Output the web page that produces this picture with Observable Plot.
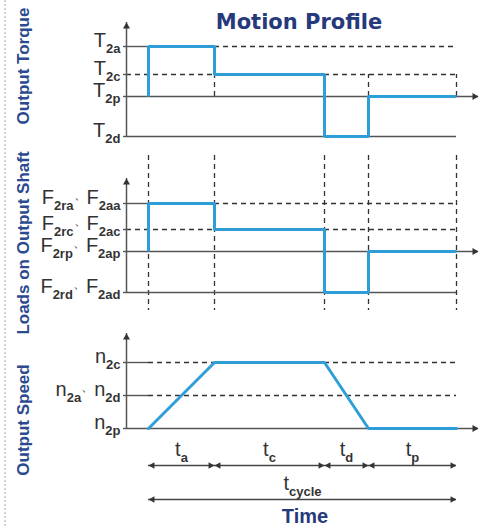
<!DOCTYPE html>
<html>
<head>
<meta charset="utf-8">
<script src="https://cdn.jsdelivr.net/npm/d3@7"></script>
<script src="https://cdn.jsdelivr.net/npm/@observablehq/plot@0.6"></script>
<style>
  html, body { margin: 0; padding: 0; background: #fff; }
  #chart { position: relative; width: 486px; height: 526px; overflow: hidden; font-family: "Liberation Sans", Arial, sans-serif; }
  #chart svg { position: absolute; left: 0; }
  .title { position: absolute; left: 299px; top: 12px; transform: translateX(-50%); font-family: "DejaVu Sans", sans-serif; font-weight: bold; font-size: 21px; line-height: 1; color: #26397a; white-space: nowrap; }
  .side { position: absolute; left: 23px; transform: translate(-50%, -50%) rotate(-90deg); font-weight: bold; font-size: 17px; line-height: 1; color: #2b4a8f; white-space: nowrap; }
  .time { position: absolute; left: 305px; top: 506px; transform: translateX(-50%); font-weight: bold; font-size: 20px; line-height: 1; color: #26397a; }
  .dots { position: absolute; left: 4px; top: 0; height: 526px; border-left: 2px dotted #d2d2d2; }
</style>
</head>
<body>
<div id="chart"></div>
<script>
// ---------------- data ----------------
const phaseNames = ["a", "c", "d", "p"];            // acceleration, constant, deceleration, pause
const phaseDurations = [3, 5, 2, 4];                // t_a, t_c, t_d, t_p
const phaseLabels = ["t_a", "t_c", "t_d", "t_p"];
const cycleLabel = "t_cycle";

const torqueLabels = ["T_2a", "T_2c", "T_2p", "T_2d"];
const torqueValues = [5, 2.2, 0, -4];
const loadLabels = ["F_2ra、F_2aa", "F_2rc、F_2ac", "F_2rp、F_2ap", "F_2rd、F_2ad"];
const loadValues = [4.8, 2.2, 0, -4.1];
const speedLabels = ["n_2c", "n_2a、n_2d", "n_2p"];
const speedValues = [3, 1.5, 0];

// level held during each phase (index into the torque / load level arrays)
const stepPhaseLevel = [0, 1, 3, 2];
// speed at each phase boundary (index into speedValues)
const speedAtBoundary = [2, 0, 0, 2, 2];

// ---------------- styling ----------------
const W = 486;
const X_DOMAIN = [-1, 15];
const xMin = X_DOMAIN[0], xMax = X_DOMAIN[1];
const BLUE = "#2f9ed8";
const SOLID = "#555";
const DASH = "#333";
const FONT = "Liberation Sans, Arial, sans-serif";
const SUB_SIZE = 13, SUB_SHIFT = 6, SEP_RAISE = 5;

const bounds = [0, ...d3.cumsum(phaseDurations)];
const last = bounds.length - 1;

const chart = document.getElementById("chart");

function subscripts(svg) {
  svg.querySelectorAll("text").forEach(t => {
    const s = t.textContent;
    if (!s.includes("_")) return;
    t.textContent = "";
    const parts = s.split(/(_[0-9a-z]+|、)/).filter(p => p !== "");
    let offset = 0; // current baseline offset
    const move = (ts, target) => { if (target !== offset) { ts.setAttribute("dy", target - offset); offset = target; } };
    for (const p of parts) {
      const ts = document.createElementNS("http://www.w3.org/2000/svg", "tspan");
      if (p.startsWith("_")) {
        ts.textContent = p.slice(1);
        ts.setAttribute("font-size", SUB_SIZE);
        ts.setAttribute("font-weight", "bold");
        move(ts, SUB_SHIFT);
      } else if (p === "、") {
        ts.textContent = p;
        ts.setAttribute("font-size", 13);
        move(ts, -SEP_RAISE);
      } else {
        ts.textContent = p;
        move(ts, 0);
      }
      t.appendChild(ts);
    }
  });
}

function panel(top, height, y, marks) {
  const svg = Plot.plot({
    width: W, height,
    marginLeft: 126, marginRight: 8, marginTop: 0, marginBottom: 0,
    x: {domain: X_DOMAIN, axis: null},
    y: {...y, axis: null},
    style: {background: "none", overflow: "visible"},
    marks
  });
  svg.style.position = "absolute";
  svg.style.top = top + "px";
  svg.style.left = "0px";
  subscripts(svg);
  chart.appendChild(svg);
}

function levelLabels(labels, values) {
  const rows = labels.map((label, i) => ({label, v: values[i]}));
  return [
    Plot.ruleY(rows, {y: "v", x1: xMin, x2: xMin, insetLeft: -3, stroke: SOLID, strokeWidth: 1.4}),
    Plot.text(rows, {x: xMin, y: "v", text: "label", textAnchor: "end", lineAnchor: "bottom", dx: -6,
      fontSize: 20, fontFamily: FONT, fill: "#333"})
  ];
}

function axes(bottomLevel, zero, tip) {
  return [
    Plot.ruleX([xMin], {x: d => d, y1: bottomLevel, y2: tip, stroke: SOLID, strokeWidth: 1.5}),
    Plot.ruleY([zero], {y: d => d, x1: xMin, x2: xMax, stroke: SOLID, strokeWidth: 1.5}),
    Plot.dot([tip], {x: xMin, y: d => d, symbol: "triangle", r: 2.6, dy: 4, fill: "#333", stroke: "none"}),
    Plot.dot([zero], {x: xMax, y: d => d, symbol: "triangle", r: 2.6, rotate: 90, dx: -4, fill: "#333", stroke: "none"})
  ];
}

function stepPanel(top, values, labels, tip, verticalFrom) {
  const [A, C, P, D] = values;
  const pts = [{t: bounds[0], v: P}];
  phaseNames.forEach((_, i) => {
    const v = values[stepPhaseLevel[i]];
    pts.push({t: bounds[i], v}, {t: bounds[i + 1], v});
  });
  const solid = [
    {y: A, x1: xMin, x2: bounds[0]},
    {y: D, x1: xMin, x2: bounds[last]}
  ];
  const dashed = [
    {y: A, x1: bounds[1], x2: bounds[last]},
    {y: C, x1: xMin, x2: bounds[1]},
    {y: C, x1: bounds[2], x2: bounds[last]}
  ];
  panel(top, 155, {domain: [-5.9, 9.6]}, [
    Plot.ruleX(bounds, {x: d => d, y1: verticalFrom, stroke: DASH, strokeWidth: 1.3, strokeDasharray: "5,4"}),
    Plot.ruleY(dashed, {y: "y", x1: "x1", x2: "x2", stroke: DASH, strokeWidth: 1.3, strokeDasharray: "5,4"}),
    Plot.ruleY(solid, {y: "y", x1: "x1", x2: "x2", stroke: SOLID, strokeWidth: 1.4}),
    ...axes(D, P, tip),
    ...levelLabels(labels, values),
    Plot.line(pts, {x: "t", y: "v", stroke: BLUE, strokeWidth: 3, strokeLinejoin: "miter", strokeLinecap: "butt"})
  ]);
}

// Output torque
stepPanel(0, torqueValues, torqueLabels, 7.4, torqueValues[1]);
// Loads on output shaft
stepPanel(155, loadValues, loadLabels, 7.3, undefined);

// Output speed
{
  const [C, A, P] = speedValues;
  const pts = bounds.map((t, i) => ({t, v: speedValues[speedAtBoundary[i]]}));
  const solid = [
    {y: C, x1: xMin, x2: bounds[0]},
    {y: A, x1: xMin, x2: bounds[0]}
  ];
  const dashed = [
    {y: C, x1: bounds[0], x2: bounds[1]},
    {y: C, x1: bounds[2], x2: bounds[last]},
    {y: A, x1: bounds[0], x2: bounds[last]}
  ];
  panel(310, 130, {domain: [-0.545, 5.364]}, [
    Plot.ruleX(bounds, {x: d => d, y2: P, stroke: DASH, strokeWidth: 1.3, strokeDasharray: "5,4"}),
    Plot.ruleX(bounds, {x: d => d, y1: P, stroke: SOLID, strokeWidth: 1.4}),
    Plot.ruleY(dashed, {y: "y", x1: "x1", x2: "x2", stroke: DASH, strokeWidth: 1.3, strokeDasharray: "5,4"}),
    Plot.ruleY(solid, {y: "y", x1: "x1", x2: "x2", stroke: SOLID, strokeWidth: 1.4}),
    ...axes(P, P, 4.32),
    ...levelLabels(speedLabels, speedValues),
    Plot.line(pts, {x: "t", y: "v", stroke: BLUE, strokeWidth: 3, strokeLinejoin: "miter"})
  ]);
}

// Time annotations
{
  const spans = [
    ...phaseLabels.map((label, i) => ({label, x1: bounds[i], x2: bounds[i + 1], row: "seg"})),
    {label: cycleLabel, x1: bounds[0], x2: bounds[last], row: "cycle"}
  ];
  const ext = bounds.map((t, i) => ({t, row: (i === 0 || i === last) ? "cycle" : "seg"}));
  panel(440, 86, {type: "point", domain: ["seg", "cycle"], range: [25, 59], padding: 0}, [
    Plot.ruleX(ext, {x: "t", y2: "row", insetBottom: -2.5, stroke: SOLID, strokeWidth: 1.4}),
    Plot.ruleY(spans, {y: "row", x1: "x1", x2: "x2", stroke: "#444", strokeWidth: 1.3}),
    Plot.dot(spans, {x: "x1", y: "row", symbol: "triangle", r: 2.5, rotate: -90, dx: 4, fill: "#333", stroke: "none"}),
    Plot.dot(spans, {x: "x2", y: "row", symbol: "triangle", r: 2.5, rotate: 90, dx: -4, fill: "#333", stroke: "none"}),
    Plot.text(spans, {x: d => (d.x1 + d.x2) / 2, y: "row", text: "label", textAnchor: "middle", lineAnchor: "bottom",
      dy: -10, fontSize: 20, fontFamily: FONT, fill: "#333"})
  ]);
}

// HTML texts
const add = (cls, text, style) => {
  const d = document.createElement("div");
  d.className = cls; d.textContent = text;
  if (style) Object.assign(d.style, style);
  chart.appendChild(d);
};
add("dots", "");
add("title", "Motion Profile");
add("side", "Output Torque", {top: "66px"});
add("side", "Loads on Output Shaft", {top: "243px"});
add("side", "Output Speed", {top: "420px"});
add("time", "Time");
</script>
</body>
</html>
